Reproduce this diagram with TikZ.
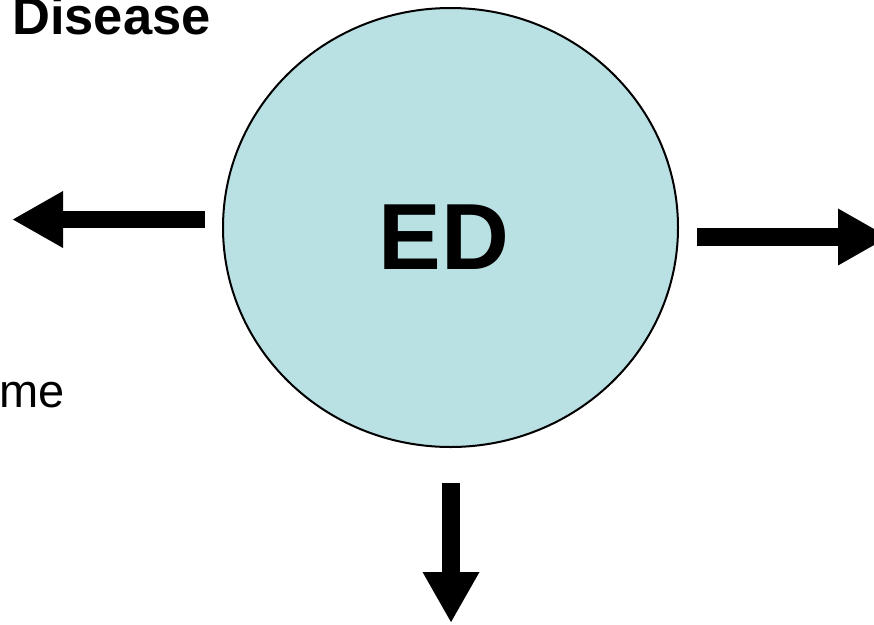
\documentclass[tikz,border=0pt]{standalone}
\usepackage{fontspec}
\setmainfont{Liberation Sans}
\usetikzlibrary{shapes.geometric,arrows.meta}
\definecolor{edfill}{HTML}{B9E0E3}
\tikzset{
  fatarrow/.style={line width=17.5pt, draw=black, -{Triangle[width=53pt,length=51pt]}},
  bigtext/.style={inner sep=0pt, text=black}
}
\begin{document}
\begin{tikzpicture}[x=1pt,y=-1pt]
\useasboundingbox (0,0) rectangle (874,624);
\clip (0,0) rectangle (874,624);
\node[ellipse, draw=black, line width=2pt, fill=edfill, minimum width=455pt, minimum height=439pt, inner sep=0pt] (ed) at (450.5,227.5) {};
\node[bigtext, anchor=base] (edlabel) at (444,269) {\fontsize{94}{94}\selectfont\bfseries ED};
\node[bigtext, anchor=base west] (disease) at (12,34) {\fontsize{52.5}{52.5}\selectfont\bfseries Disease};
\node[bigtext, anchor=base east] (me) at (65,407) {\fontsize{47}{47}\selectfont me};
\coordinate (lstart) at (205,219.5);
\coordinate (lend) at (12,219.5);
\coordinate (rstart) at (697,237);
\coordinate (rend) at (889,237);
\coordinate (dstart) at (451,483);
\coordinate (dend) at (451,623);
\draw[fatarrow] (lstart) -- (lend);
\draw[fatarrow] (rstart) -- (rend);
\draw[fatarrow] (dstart) -- (dend);
\end{tikzpicture}
\end{document}
